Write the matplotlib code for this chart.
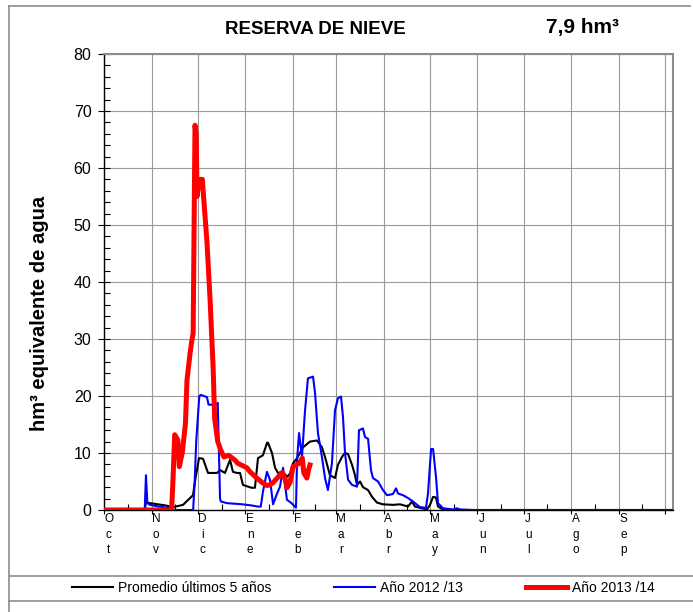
import matplotlib
matplotlib.use("Agg")
import matplotlib.pyplot as plt
from matplotlib.lines import Line2D
from matplotlib.ticker import MultipleLocator, FixedLocator, NullFormatter

plt.rcParams['font.family'] = ['Liberation Sans', 'DejaVu Sans']

# Hydrological year: day 0 = 1 October
month_labels = ["Oct", "Nov", "Dic", "Ene", "Feb", "Mar", "Abr", "May", "Jun", "Jul", "Ago", "Sep"]
month_days = [31, 30, 31, 31, 28, 31, 30, 31, 30, 31, 31, 30]

# Average of the last five years (hm3)
avg_day = [0, 26.5, 27.3, 30, 40, 44.9, 51.4, 56, 57.9, 59.5, 61.8, 64.4, 67.7, 73.5, 75.5,
           78.7, 82, 83.9, 86.5, 88.5, 90.4, 96, 98.2, 100.2, 103.4, 106.1, 106.7, 109.3,
           111.3, 113.2, 116.5, 119.1, 121, 123, 125.6, 129.5, 134, 138.6, 141.8, 143.8,
           147, 150.3, 152.2, 154.8, 156.8, 158.8, 161.4, 163.3, 164.6, 166.6, 168.5,
           171.8, 174.4, 177.6, 181.5, 188, 192.6, 197.8, 200.4, 202.3, 206.9, 210.2,
           212.1, 214.1, 216, 217.3, 220.6, 225, 370]
avg_val = [0, 0, 1.3, 1.2, 0.8, 0.5, 0.9, 2.1, 2.6, 5.5, 9.1, 9.0, 6.5, 6.5, 7.0,
           6.5, 8.8, 6.7, 6.5, 6.5, 4.4, 3.9, 3.9, 9.1, 9.6, 11.8, 11.8, 10.0,
           7.4, 6.5, 6.7, 5.8, 6.4, 8.2, 9.1, 11.0, 12.0, 12.2, 11.0, 9.3,
           6.1, 5.6, 7.9, 9.3, 10.0, 9.8, 7.9, 6.1, 4.4, 5.0, 4.0,
           3.5, 2.3, 1.3, 1.0, 0.9, 1.0, 0.6, 1.5, 0.6, 0.3, 0.1,
           0.9, 2.3, 2.2, 0.6, 0.1, 0, 0]

# Season 2012/13 (hm3)
y1213_day = [0, 26.5, 27.3, 28.2, 30, 36, 43, 44, 58, 59, 60, 62, 63, 67, 68, 73, 74,
             75.5, 76, 80, 90, 96, 100, 102, 103.4, 106, 108, 110, 112.6, 114.5, 116.5,
             119, 122, 124.9, 125.6, 126.9, 128.8, 130.8, 132.7, 136, 137.3, 139.2,
             141.8, 143.8, 145.7, 148.3, 150.3, 152.2, 154.2, 155.5, 156.8, 158.8,
             161.4, 164.6, 165.9, 168.5, 169.8, 171.8, 173.7, 175, 178.3, 181.5, 184.1,
             188, 190, 191.3, 194.5, 197.8, 201, 205.6, 209.5, 210.8, 212.8, 214.1, 216,
             217.3, 220.6, 227.1, 229.7, 231.6, 240, 370]
y1213_val = [0, 0, 6.1, 1.2, 0.9, 0.6, 0.3, 0, 0, 5, 12, 20, 20.2, 19.8, 18.5, 18.4, 18.8,
             2, 1.5, 1.2, 1.0, 0.8, 0.6, 0.6, 3.2, 6.7, 5.3, 1, 2.9, 4.1, 7.4,
             1.8, 1.2, 0.4, 8.8, 13.5, 9.3, 17.5, 23.1, 23.4, 20.5, 13.5,
             9.3, 5.6, 3.5, 8.2, 17.5, 19.6, 19.9, 16.3, 10, 5.3,
             4.4, 4.1, 14, 14.3, 12.8, 12.5, 7, 5.6, 5, 3.5, 2.6,
             2.8, 3.8, 2.9, 2.6, 2.1, 1.5, 0.5, 0.4, 2.9, 10.7, 10.7, 5.8,
             1.2, 0.3, 0.1, 0.3, 0.1, 0, 0]

# Season 2013/14 (hm3), last value is the current reserve
y1314_day = [0, 44, 45, 46, 48, 49, 51, 53, 54, 56, 57, 58, 59.2, 60, 60.5, 61.5, 62.5,
             64, 64.5, 67, 69, 71, 72, 74, 76, 78, 81, 83, 85, 87, 90, 93, 95, 99, 103,
             106, 108, 110, 113, 116, 118, 119, 121, 123, 125, 127, 129, 130, 132, 133,
             134]
y1314_val = [0, 0, 6, 13.2, 12.3, 7.6, 10.2, 15.2, 22.8, 27.5, 29.5, 31, 67.5, 66, 55, 57,
             58, 58, 56, 47, 37, 25, 16, 12, 10.5, 9.3, 9.6, 9.2, 8.8, 8.2, 7.8, 7.4, 6.7,
             5.7, 4.8, 4.3, 4.4, 4.8, 5.7, 6.6, 5.3, 3.9, 4.8, 7.6, 7.9, 8.2, 9.1, 6.5,
             5.6, 7.0, 7.9]

current = y1314_val[-1]

W, H = 693, 612
fig = plt.figure(figsize=(W / 100, H / 100), dpi=100)
ax = fig.add_axes([104 / W, 1 - 510 / H, (673 - 104) / W, (510 - 54) / H])

month_starts = [0]
for d in month_days:
    month_starts.append(month_starts[-1] + d)
mid_months = [s + d / 2 for s, d in zip(month_starts[:-1], month_days)]

ax.set_xlim(0, 370.2)
ax.set_ylim(0, 80)

ax.xaxis.set_major_locator(FixedLocator(month_starts))
ax.xaxis.set_minor_locator(FixedLocator(mid_months))
ax.xaxis.set_major_formatter(NullFormatter())
ax.yaxis.set_major_locator(MultipleLocator(10))
ax.yaxis.set_minor_locator(MultipleLocator(2))
ax.grid(True, which='major', color='#9a9a9a', linewidth=0.8)
ax.set_axisbelow(True)

ax.tick_params(axis='y', which='major', direction='inout', length=8, width=0.8,
               labelsize=11.5, pad=5)
ax.tick_params(axis='y', which='minor', direction='in', length=4, width=0.8)
ax.tick_params(axis='x', which='major', direction='out', length=3, width=0.8)
ax.tick_params(axis='x', which='minor', direction='in', length=4, width=0.8)

for s in ('top', 'right'):
    ax.spines[s].set_color('#8c8c8c')
    ax.spines[s].set_linewidth(1.5)
for s in ('left', 'bottom'):
    ax.spines[s].set_color('black')
    ax.spines[s].set_linewidth(1.0)

ax.plot(avg_day, avg_val, color='black', lw=1.5, label='Promedio últimos 5 años', zorder=3)
ax.plot(y1213_day, y1213_val, color='#0000ff', lw=1.5, label='Año 2012 /13', zorder=4)
ax.plot(y1314_day, y1314_val, color='#ff0000', lw=3.6, label='Año 2013 /14', zorder=5,
        solid_joinstyle='round')

# Month names written vertically under the axis
for i, name in enumerate(month_labels):
    ax.text(month_starts[i] + 3, -0.6, "\n".join(name), ha='center', va='top',
            fontsize=8.5, linespacing=1.35, transform=ax.transData, clip_on=False)

fig.text(40 / W, 1 - 313 / H, "hm³ equivalente de agua", rotation=90, ha='center',
         va='center', fontsize=14.5, fontweight='bold')

fig.text(315 / W, 1 - 29 / H, "RESERVA DE NIEVE", ha='center', va='center',
         fontsize=13.5, fontweight='bold')
fig.text(582 / W, 1 - 27 / H, f"{current:.1f}".replace('.', ',') + " hm³",
         ha='center', va='center', fontsize=15, fontweight='bold')

fig.legend(loc='center', bbox_to_anchor=(363.5 / W, 1 - 588 / H), ncol=3, frameon=False,
           fontsize=10, handlelength=2.95, handletextpad=0.36, columnspacing=4.55)

# Outer frame and legend box
border = '#8c8c8c'
fig.add_artist(Line2D([9 / W, 9 / W], [0, 1 - 6 / H], color=border, lw=1.2))
fig.add_artist(Line2D([9 / W, 690 / W], [1 - 6 / H, 1 - 6 / H], color=border, lw=1.2))
fig.add_artist(Line2D([9 / W, 1], [1 - 576 / H, 1 - 576 / H], color=border, lw=1.2))
fig.add_artist(Line2D([9 / W, 1], [1 - 601 / H, 1 - 601 / H], color=border, lw=1.2))

fig.savefig("out.png", dpi=100)
